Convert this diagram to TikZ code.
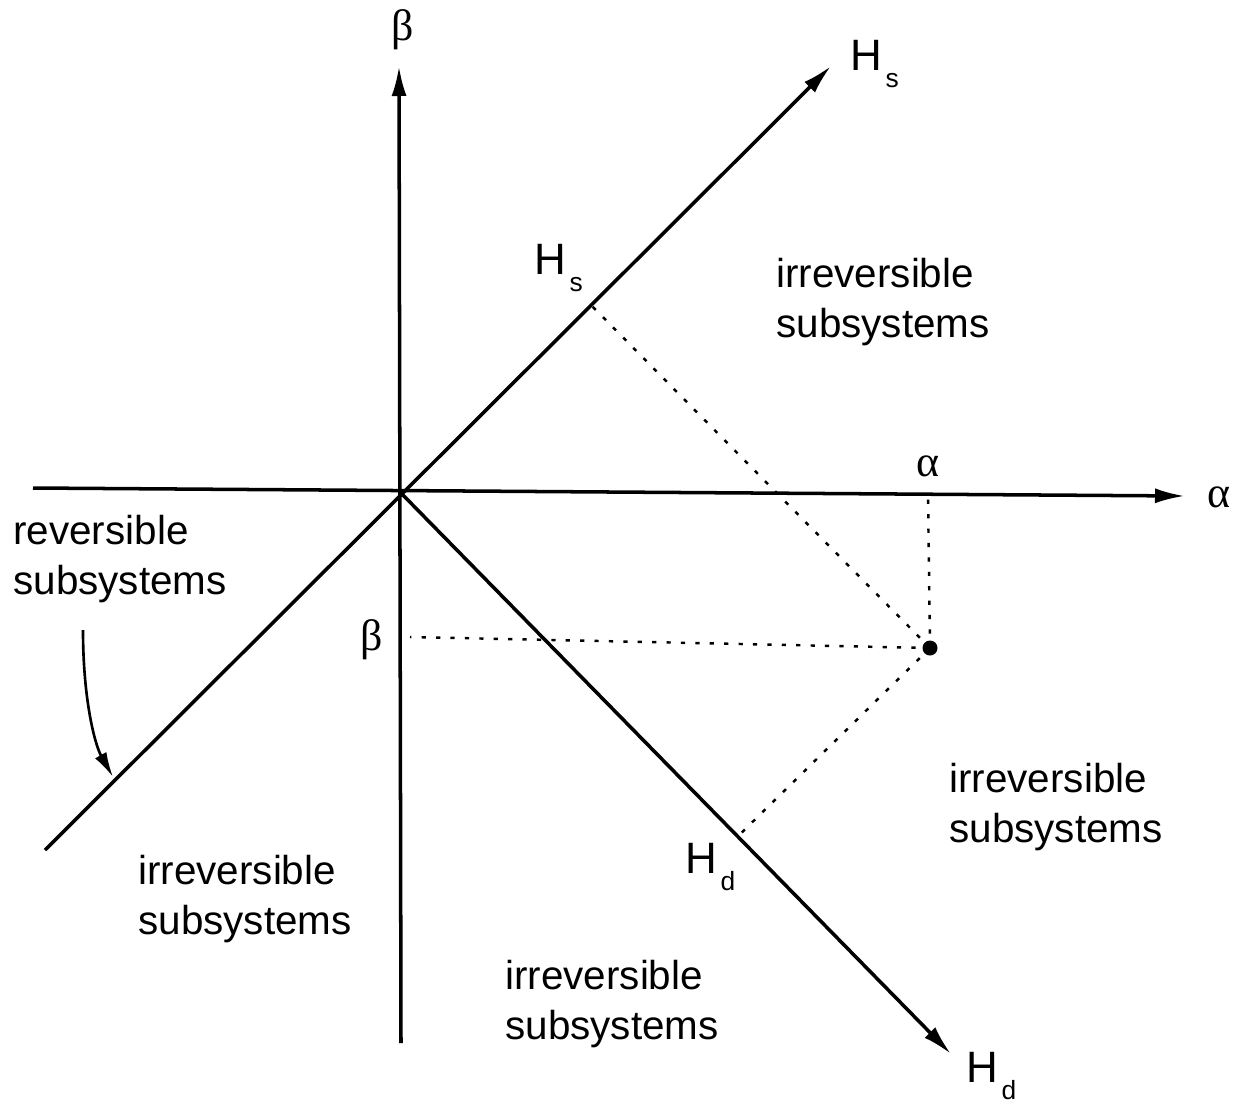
\documentclass[tikz,border=0pt]{standalone}
\usepackage{fontspec}
\setmainfont{Liberation Sans}
\newfontfamily\greekfont{Liberation Serif}
\usetikzlibrary{arrows.meta,calc}
\tikzset{
  axisline/.style={
    line width=2pt,
    draw=black,
    -{Latex[length=6mm,width=3mm]}
  },
  plainline/.style={
    line width=2pt,
    draw=black
  },
  projline/.style={
    line width=1.4pt,
    draw=black,
    dash pattern=on 2.4pt off 5.8pt
  },
  pointer/.style={
    line width=1.5pt,
    draw=black,
    -{Latex[length=5mm,width=2.6mm]}
  },
  regionlabel/.style={
    align=left,
    inner sep=0pt,
    font=\fontsize{23}{28.5}\selectfont
  },
  greeklabel/.style={
    inner sep=0pt,
    font=\greekfont\fontsize{25}{28}\selectfont
  },
  hlabel/.style={
    inner sep=0pt,
    anchor=base west,
    font=\fontsize{25}{28}\selectfont
  }
}
\newcommand{\Hlab}[1]{H\kern2pt\raisebox{-10pt}{\fontsize{15}{15}\selectfont #1}}

\begin{document}
\begin{tikzpicture}[x=0.02cm,y=-0.02cm]
  \useasboundingbox (0,0) rectangle (1251,1109);

  \coordinate (origin) at (400,492);
  \coordinate (abot) at (33,488);
  \coordinate (atip) at (1185,496);
  \coordinate (bbot) at (401,1043);
  \coordinate (btip) at (399,66);
  \coordinate (hsbot) at (45,850);
  \coordinate (hstip) at (831,66);
  \coordinate (hdtip) at (951,1054);
  \coordinate (pt) at (930,648);
  \coordinate (aonaxis) at (928,494);
  \coordinate (bonaxis) at (410,637);
  \coordinate (hsfoot) at ($(origin)!(pt)!(hstip)$);
  \coordinate (hdfoot) at ($(origin)!(pt)!(hdtip)$);
  \coordinate (revtail) at (83,630);
  \coordinate (revhead) at (113,777);

  % axes and the two lines through the origin
  \draw[axisline] (abot) -- (atip);
  \draw[axisline] (bbot) -- (btip);
  \draw[axisline] (hsbot) -- (hstip);
  \draw[axisline] (origin) -- (hdtip);

  % projections of the point
  \draw[projline] (pt) -- (aonaxis);
  \draw[projline] (pt) -- (bonaxis);
  \draw[projline] (pt) -- (hsfoot);
  \draw[projline] (pt) -- (hdfoot);
  \fill (pt) circle (7.5);

  % axis labels
  \node[greeklabel] (betatop) at (403,30) {β};
  \node[greeklabel] (alpharight) at (1219,497) {α};
  \node[greeklabel] (alphamark) at (928,466) {α};
  \node[greeklabel] (betamark) at (372,640) {β};

  \node[hlabel] (hstop) at (850,70) {\Hlab{s}};
  \node[hlabel] (hsmid) at (534,274) {\Hlab{s}};
  \node[hlabel] (hdmid) at (685,873) {\Hlab{d}};
  \node[hlabel] (hdbot) at (966,1082) {\Hlab{d}};

  % regions
  \node[regionlabel] (irrtop) at (883,302) {irreversible\\subsystems};
  \node[regionlabel] (irrright) at (1056,807) {irreversible\\subsystems};
  \node[regionlabel] (irrleft) at (245,899) {irreversible\\subsystems};
  \node[regionlabel] (irrbot) at (612,1004) {irreversible\\subsystems};
  \node[regionlabel] (rev) at (120,559) {reversible\\subsystems};

  \draw[pointer] (revtail) .. controls (83,700) and (95,745) .. (revhead);
\end{tikzpicture}
\end{document}
